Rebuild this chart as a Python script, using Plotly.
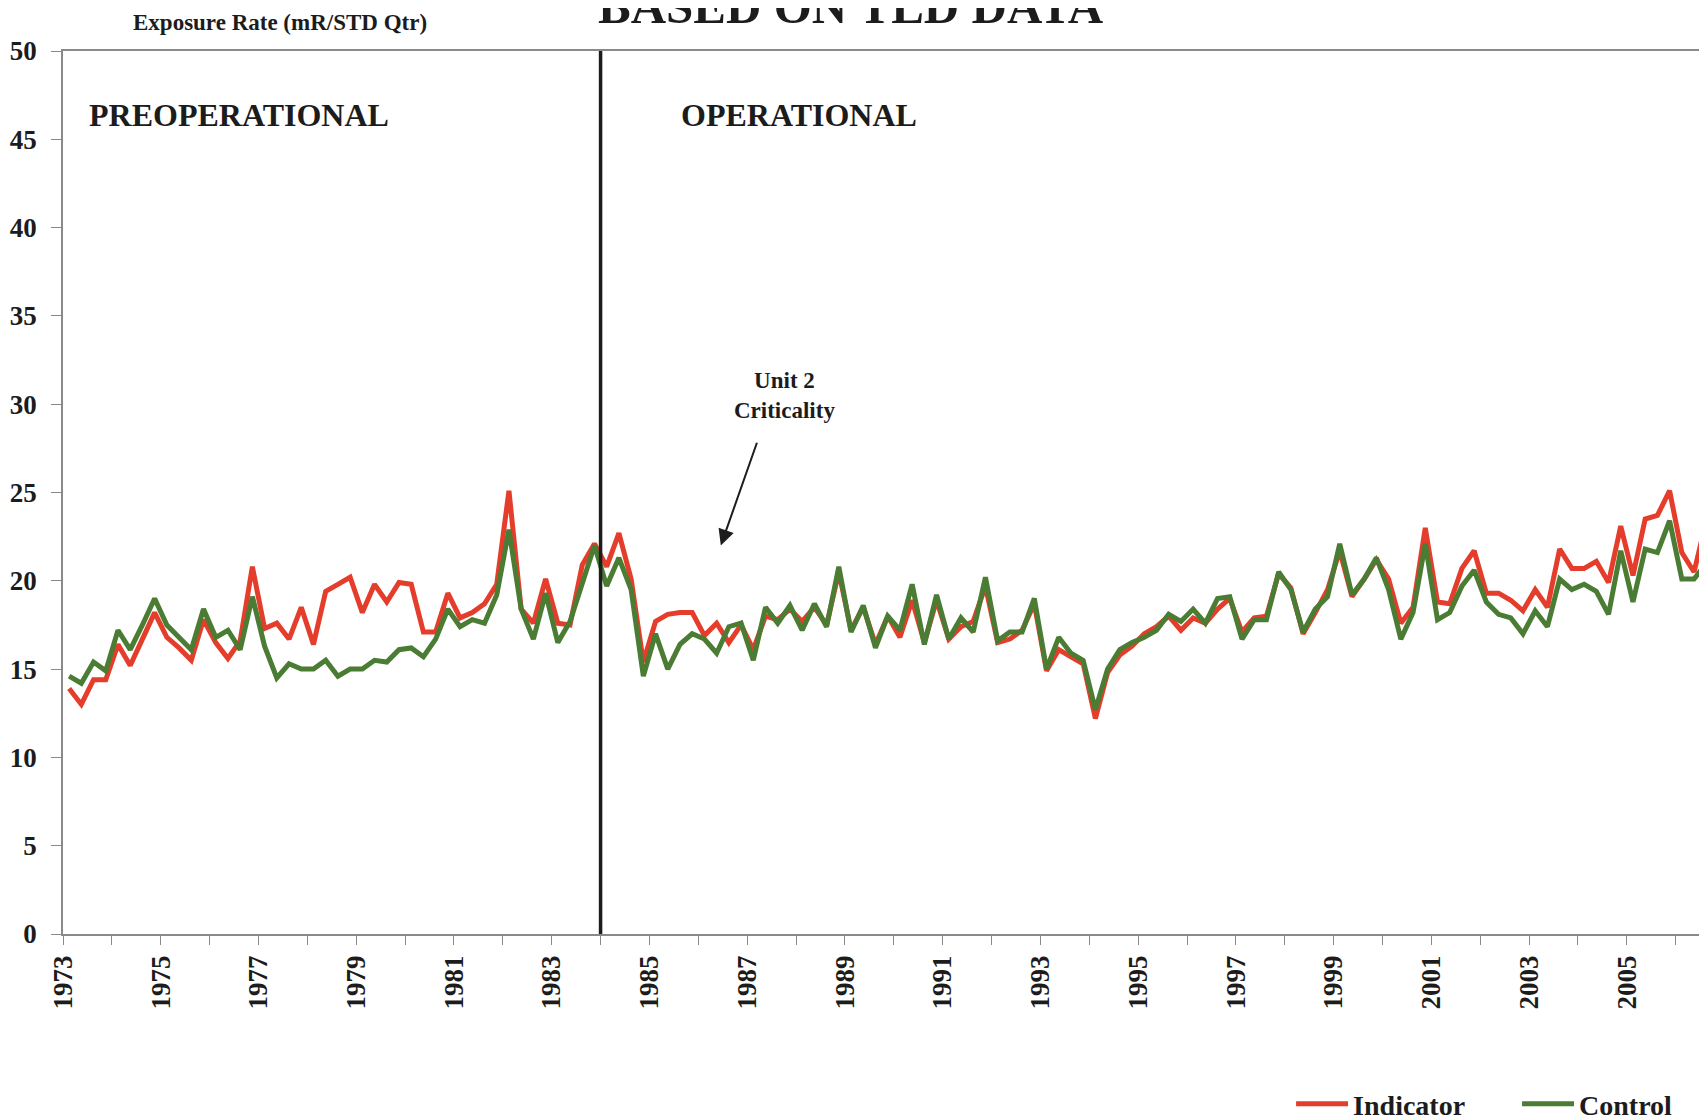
import plotly.graph_objects as go

# Quarterly exposure rate (mR/STD Qtr), starting 1973 Q1
start_year = 1973
indicator = [
    13.9, 13.0, 14.4, 14.4, 16.4, 15.2, 16.7, 18.2, 16.8, 16.2,
    15.5, 17.8, 16.5, 15.6, 16.6, 20.8, 17.3, 17.6, 16.7, 18.5,
    16.4, 19.4, 19.8, 20.2, 18.2, 19.8, 18.8, 19.9, 19.8, 17.1,
    17.1, 19.3, 17.9, 18.2, 18.7, 19.8, 25.1, 18.4, 17.6, 20.1,
    17.6, 17.5, 20.9, 22.1, 20.8, 22.7, 20.1, 15.4, 17.7, 18.1,
    18.2, 18.2, 16.9, 17.6, 16.5, 17.5, 16.1, 18.0, 17.8, 18.4,
    17.7, 18.5, 17.5, 20.5, 17.2, 18.5, 16.4, 18.0, 16.8, 18.9,
    16.5, 18.9, 16.7, 17.4, 17.7, 19.7, 16.5, 16.7, 17.2, 18.7,
    14.9, 16.1, 15.7, 15.3, 12.2, 14.8, 15.8, 16.3, 17.0, 17.4,
    18.0, 17.2, 17.9, 17.6, 18.4, 19.0, 17.1, 17.9, 18.0, 20.4,
    19.6, 17.0, 18.2, 19.5, 21.7, 19.1, 20.1, 21.2, 20.1, 17.6,
    18.5, 23.0, 18.8, 18.7, 20.7, 21.7, 19.3, 19.3, 18.9, 18.3,
    19.5, 18.5, 21.8, 20.7, 20.7, 21.1, 19.9, 23.1, 20.3, 23.5,
    23.7, 25.1, 21.6, 20.5, 23.4,
]
control = [
    14.6, 14.2, 15.4, 14.9, 17.2, 16.1, 17.5, 19.0, 17.5, 16.8,
    16.1, 18.4, 16.8, 17.2, 16.1, 19.1, 16.3, 14.5, 15.3, 15.0,
    15.0, 15.5, 14.6, 15.0, 15.0, 15.5, 15.4, 16.1, 16.2, 15.7,
    16.7, 18.4, 17.4, 17.8, 17.6, 19.2, 22.9, 18.4, 16.7, 19.3,
    16.5, 17.7, 19.8, 22.0, 19.7, 21.3, 19.5, 14.6, 17.0, 15.0,
    16.4, 17.0, 16.7, 15.9, 17.4, 17.6, 15.5, 18.5, 17.6, 18.6,
    17.2, 18.7, 17.4, 20.8, 17.1, 18.6, 16.2, 18.0, 17.2, 19.8,
    16.4, 19.2, 16.7, 17.9, 17.1, 20.2, 16.6, 17.1, 17.1, 19.0,
    15.0, 16.8, 15.9, 15.5, 12.7, 15.0, 16.1, 16.5, 16.8, 17.2,
    18.1, 17.7, 18.4, 17.6, 19.0, 19.1, 16.7, 17.8, 17.8, 20.5,
    19.5, 17.1, 18.4, 19.1, 22.1, 19.2, 20.1, 21.3, 19.5, 16.7,
    18.2, 22.1, 17.8, 18.2, 19.7, 20.6, 18.8, 18.1, 17.9, 17.0,
    18.3, 17.4, 20.1, 19.5, 19.8, 19.4, 18.1, 21.7, 18.8, 21.8,
    21.6, 23.4, 20.1, 20.1, 21.0,
]
# mid-quarter time in decimal years
quarter_time = [start_year + 0.125 + 0.25 * k for k in range(len(indicator))]
year_labels = list(range(1973, 2006, 2))
operational_start = 1984

SERIF = "Liberation Serif, Times New Roman, serif"
RED = "#E53D2B"
GREEN = "#4A7C33"
INK = "#1c1c1c"
AXIS = "#8a8a8a"

fig = go.Figure()
fig.add_trace(go.Scatter(x=quarter_time, y=indicator, mode="lines", name="Indicator",
                         line=dict(color=RED, width=5), legend="legend"))
fig.add_trace(go.Scatter(x=quarter_time, y=control, mode="lines", name="Control",
                         line=dict(color=GREEN, width=5), legend="legend2"))

fig.add_shape(type="line", x0=operational_start, x1=operational_start, y0=0, y1=50,
              xref="x", yref="y", line=dict(color=INK, width=3.5))

legend_font = dict(family=SERIF, size=28, weight="bold", color=INK)
fig.update_layout(
    width=1699, height=1112,
    margin=dict(l=55, r=0, t=43, b=186, autoexpand=False),
    paper_bgcolor="white", plot_bgcolor="white",
    font=dict(family=SERIF, color=INK),
    showlegend=True,
    legend=dict(xref="container", yref="container", x=0.7552, xanchor="left",
                y=0.0144, yanchor="middle", font=legend_font, bgcolor="rgba(0,0,0,0)",
                itemwidth=52),
    legend2=dict(xref="container", yref="container", x=0.8882, xanchor="left",
                 y=0.0144, yanchor="middle", font=legend_font, bgcolor="rgba(0,0,0,0)",
                 itemwidth=52),
    xaxis=dict(range=[1973, 2006.64], tickvals=year_labels, ticktext=[str(y) for y in year_labels],
               tickangle=-90, ticks="outside", ticklen=9, tickcolor=AXIS,
               showline=True, linecolor=AXIS, linewidth=1.5, mirror=True,
               showgrid=False, zeroline=False, automargin=False,
               tickfont=dict(family=SERIF, size=27, weight="bold", color=INK),
               minor=dict(dtick=1, tick0=1973, ticks="outside", ticklen=9, tickcolor=AXIS,
                          showgrid=False)),
    yaxis=dict(range=[0, 50], tickvals=list(range(0, 51, 5)), ticks="outside", ticklen=10,
               tickcolor=AXIS, showline=True, linecolor=AXIS, linewidth=1.5,
               showgrid=False, zeroline=False, ticklabelstandoff=9, automargin=False,
               tickfont=dict(family=SERIF, size=27, weight="bold", color=INK)),
)

fig.add_annotation(text="BASED ON TLD DATA", xref="paper", yref="paper", x=0.4793, y=1,
                   xanchor="center", yanchor="bottom", yshift=15, showarrow=False,
                   font=dict(family=SERIF, size=49, weight="bold", color=INK))
fig.add_annotation(text="Exposure Rate (mR/STD Qtr)", xref="paper", yref="paper", x=0.1317, y=1.0328,
                   xanchor="center", yanchor="middle", showarrow=False,
                   font=dict(family=SERIF, size=23, weight="bold", color=INK))
fig.add_annotation(text="PREOPERATIONAL", x=1973.5, y=46.4, xanchor="left", yanchor="middle",
                   showarrow=False, font=dict(family=SERIF, size=32, weight="bold", color=INK))
fig.add_annotation(text="OPERATIONAL", x=1985.6, y=46.4, xanchor="left", yanchor="middle",
                   showarrow=False, font=dict(family=SERIF, size=32, weight="bold", color=INK))
fig.add_annotation(text="Unit 2<br>Criticality", x=1987.76, y=30.5, xanchor="center", yanchor="middle",
                   showarrow=False, font=dict(family=SERIF, size=23, weight="bold", color=INK))
fig.add_annotation(text="", x=1986.46, y=22.0, ax=1987.21, ay=27.9, axref="x", ayref="y",
                   showarrow=True, arrowhead=2, arrowsize=1.6, arrowwidth=2, arrowcolor=INK)

fig.write_html("out.html")
